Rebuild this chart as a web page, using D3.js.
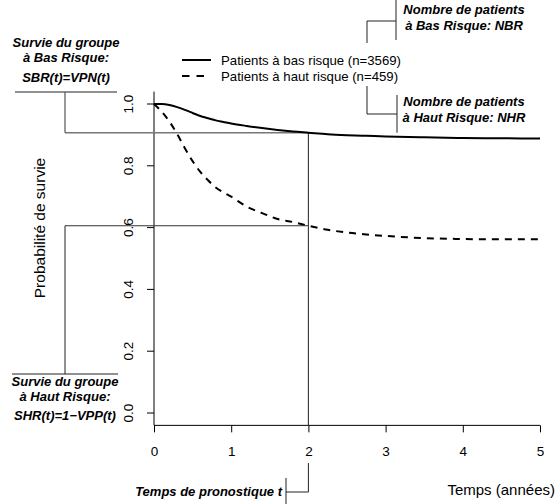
<!DOCTYPE html>
<html>
<head>
<meta charset="utf-8">
<script src="https://cdn.jsdelivr.net/npm/d3@7"></script>
<style>
  body { margin: 0; background: #fff; }
  svg { display: block; font-family: "Liberation Sans", Arial, sans-serif; }
  .note { font-weight: bold; font-style: italic; font-size: 13px; }
</style>
</head>
<body>
<div id="chart"></div>
<script>
var svgWidth = 556;
var svgHeight = 504;

// Survival curves (time in years)
var times    = [0, 0.1, 0.2, 0.3, 0.4, 0.5, 0.6, 0.7, 0.8, 0.9, 1.0, 1.2, 1.4, 1.6, 1.8, 2.0, 2.25, 2.5, 2.75, 3.0, 3.5, 4.0, 4.5, 5.0];
var lowRisk  = [1.0, 1.0, 0.997, 0.99, 0.981, 0.971, 0.961, 0.954, 0.947, 0.942, 0.937, 0.929, 0.922, 0.916, 0.911, 0.907, 0.902, 0.899, 0.897, 0.895, 0.892, 0.890, 0.889, 0.888];
var highRisk = [1.0, 0.975, 0.943, 0.903, 0.857, 0.815, 0.780, 0.753, 0.730, 0.714, 0.700, 0.668, 0.647, 0.628, 0.618, 0.606, 0.593, 0.584, 0.578, 0.573, 0.566, 0.563, 0.562, 0.562];

var xTicks = [0, 1, 2, 3, 4, 5];
var yTicks = [0, 0.2, 0.4, 0.6, 0.8, 1.0];
var legendLabels = ["Patients à bas risque (n=3569)", "Patients à haut risque (n=459)"];
var tPrognosis = 2;

var svg = d3.select("#chart")
  .append("svg")
  .attr("width", svgWidth)
  .attr("height", svgHeight);

// scales (R style: y extended by 4%)
var x = d3.scaleLinear().domain([0, 5]).range([154, 540]);
var y = d3.scaleLinear().domain([0, 1]).range([413, 104]);

// axes
var xAxis = svg.append("g")
  .attr("transform", `translate(0, ${y(-0.04)})`)
  .call(d3.axisBottom(x).tickValues(xTicks).tickSize(7).tickPadding(14).tickFormat(d3.format("d")));
xAxis.selectAll("text").attr("font-size", 13.5).attr("font-family", "Liberation Sans, Arial, sans-serif");
xAxis.select(".domain").attr("d", `M${x(0)},0H${x(5)}`);

var yAxis = svg.append("g")
  .attr("transform", `translate(${x(0)}, 0)`);
yAxis.append("line")
  .attr("y1", y(1.04)).attr("y2", y(-0.04))
  .attr("stroke", "#000");
yAxis.selectAll(".tick")
  .data(yTicks)
  .enter()
  .append("line")
  .attr("x1", 0).attr("x2", -7)
  .attr("y1", d => y(d)).attr("y2", d => y(d))
  .attr("stroke", "#000");
yAxis.selectAll(".lab")
  .data(yTicks)
  .enter()
  .append("text")
  .attr("transform", d => `translate(-21, ${y(d)}) rotate(-90)`)
  .attr("text-anchor", "middle")
  .attr("font-size", 13.5)
  .text(d => d3.format(".1f")(d));

svg.append("text")
  .attr("transform", "translate(45, 228) rotate(-90)")
  .attr("text-anchor", "middle")
  .attr("font-size", 15.5)
  .text("Probabilité de survie");

svg.append("text")
  .attr("x", 555).attr("y", 495)
  .attr("text-anchor", "end")
  .attr("font-size", 15)
  .text("Temps (années)");

// reference lines at prognosis time
var iT = times.indexOf(tPrognosis);
var sLow = lowRisk[iT];
var sHigh = highRisk[iT];

function seg(x1, y1, x2, y2, col, w) {
  svg.append("line")
    .attr("x1", x1).attr("y1", y1).attr("x2", x2).attr("y2", y2)
    .attr("stroke", col || "#222")
    .attr("stroke-width", w || 1);
}

seg(65, y(sLow), x(tPrognosis), y(sLow), "#777", 1.6);
seg(65, y(sHigh), x(tPrognosis), y(sHigh), "#333", 1.1);
seg(x(tPrognosis), y(sLow), x(tPrognosis), y(-0.04), "#333", 1.1);

// left brackets
seg(15, 92, 117, 92);
seg(65, 92, 65, y(sLow), "#555", 1.2);
seg(65, y(sHigh), 65, 374);
seg(12, 374, 118, 374);

// bottom bracket
seg(x(tPrognosis), 463, x(tPrognosis), 492);
seg(286, 492, x(tPrognosis), 492);
seg(286, 478, 286, 504);

// top right brackets
seg(396, 0, 396, 40);
seg(367, 21, 396, 21);
seg(367, 21, 367, 43);
seg(367, 86, 367, 114);
seg(367, 114, 397, 114);
seg(397, 95, 397, y(sLow));

// curves
var line = d3.line()
  .x((d, i) => x(times[i]))
  .y(d => y(d))
  .curve(d3.curveMonotoneX);

svg.append("path")
  .datum(lowRisk)
  .attr("d", line)
  .attr("fill", "none")
  .attr("stroke", "#000")
  .attr("stroke-width", 2);

svg.append("path")
  .datum(highRisk)
  .attr("d", line)
  .attr("fill", "none")
  .attr("stroke", "#000")
  .attr("stroke-width", 2)
  .attr("stroke-dasharray", "7,6");

// legend
var legend = svg.append("g");
legendLabels.forEach(function(lab, i) {
  var ly = 60 + i * 16;
  legend.append("line")
    .attr("x1", 182).attr("x2", 211)
    .attr("y1", ly).attr("y2", ly)
    .attr("stroke", "#000")
    .attr("stroke-width", 2)
    .attr("stroke-dasharray", i === 1 ? "7.5,7" : null);
  legend.append("text")
    .attr("x", 221).attr("y", ly + 5)
    .attr("font-size", 13.2)
    .text(lab);
});

// annotations
function note(lines, cx, ys) {
  lines.forEach(function(t, i) {
    svg.append("text")
      .attr("class", "note")
      .attr("x", cx).attr("y", ys[i])
      .attr("text-anchor", "middle")
      .text(t);
  });
}

note(["Survie du groupe", "à Bas Risque:", "SBR(t)=VPN(t)"], 66, [47, 62, 82]);
note(["Survie du groupe", "à Haut Risque:", "SHR(t)=1\u2212VPP(t)"], 65, [386, 401, 420]);
note(["Nombre de patients", "à Bas Risque: NBR"], 464, [14, 30]);
note(["Nombre de patients", "à Haut Risque: NHR"], 464, [106, 122]);

svg.append("text")
  .attr("class", "note")
  .attr("x", 282).attr("y", 496)
  .attr("text-anchor", "end")
  .text("Temps de pronostique t");
</script>
</body>
</html>
